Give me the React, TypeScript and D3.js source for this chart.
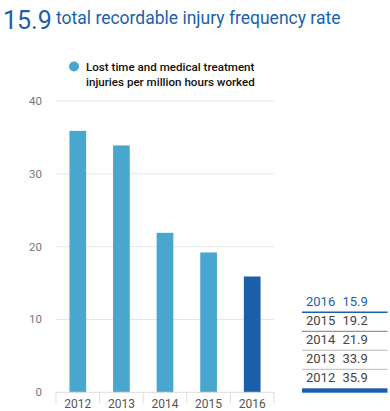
import React from 'react';
import * as d3 from 'd3';

const years = ['2012', '2013', '2014', '2015', '2016'];
const rates = [35.9, 33.9, 21.9, 19.2, 15.9];
const yTicks = [0, 10, 20, 30, 40];
const tableYears = ['2016', '2015', '2014', '2013', '2012'];
const tableRates = ['15.9', '19.2', '21.9', '33.9', '35.9'];

const LIGHT = '#48a6cf';
const DARK = '#1b5fab';
const FONT = 'Roboto, sans-serif';

export default function App() {
    const width = 390;
    const height = 411;

    const x = d3.scaleBand<string>()
        .domain(years)
        .range([56, 274])
        .paddingInner(0)
        .paddingOuter(0);

    const y = d3.scaleLinear()
        .domain([0, 40])
        .range([392.3, 101]);

    const barWidth = 16.7;
    const rowY = d3.scaleLinear().domain([0, 1]).range([306, 325]);

    return (
        <svg width={width} height={height} style={{ position: 'absolute', left: 0, top: 0 }}
            fontFamily={FONT}>
            {/* title */}
            <text x={3} y={29} fontSize={25} fill={DARK}>15.9</text>
            <text x={56} y={24} fontSize={17.5} fill={DARK}>total recordable injury frequency rate</text>

            {/* legend */}
            <circle cx={74} cy={66.5} r={5} fill={LIGHT} />
            <text x={86} y={70.5} fontSize={11.6} fontWeight={500} fill="#111">Lost time and medical treatment</text>
            <text x={86} y={85.5} fontSize={11.6} fontWeight={500} fill="#111">injuries per million hours worked</text>

            {/* grid + y labels */}
            {yTicks.map(t => (
                <g key={t}>
                    {t > 0 && <line x1={56} x2={274} y1={y(t)} y2={y(t)} stroke="#e6e6e6" strokeWidth={1} />}
                    <text x={42} y={y(t) + 4} fontSize={11.5} fill="#777" textAnchor="end">{t}</text>
                </g>
            ))}

            {/* bars */}
            {years.map((yr, i) => {
                const cx = (x(yr) ?? 0) + x.bandwidth() / 2;
                return (
                    <rect key={yr}
                        x={cx - barWidth / 2}
                        y={y(rates[i])}
                        width={barWidth}
                        height={y(0) - y(rates[i])}
                        fill={yr === '2016' ? DARK : LIGHT} />
                );
            })}

            {/* x axis */}
            <line x1={56} x2={274} y1={y(0)} y2={y(0)} stroke="#ddd" />
            {[...years.map(yr => x(yr) ?? 0), 274].map((px, i) => (
                <line key={i} x1={px} x2={px} y1={y(0)} y2={y(0) + 11} stroke="#ddd" />
            ))}
            {years.map(yr => (
                <text key={yr} x={(x(yr) ?? 0) + x.bandwidth() / 2} y={408} fontSize={12}
                    fill="#555" textAnchor="middle">{yr}</text>
            ))}

            {/* table */}
            {tableYears.map((yr, i) => (
                <g key={yr}>
                    <text x={306} y={rowY(i)} fontSize={13} fill={i === 0 ? DARK : '#444'}>{yr}</text>
                    <text x={342.5} y={rowY(i)} fontSize={13} fill={i === 0 ? DARK : '#444'}>{tableRates[i]}</text>
                    {i < 4 && (
                        <line x1={302} x2={387.5} y1={rowY(i) + 6.3} y2={rowY(i) + 6.3}
                            stroke={i === 0 ? DARK : i === 1 ? '#777' : '#bbb'}
                            strokeWidth={i === 0 ? 1.5 : 1} />
                    )}
                </g>
            ))}
            <rect x={302} y={388.3} width={85.5} height={4.4} fill={DARK} />
        </svg>
    );
}
